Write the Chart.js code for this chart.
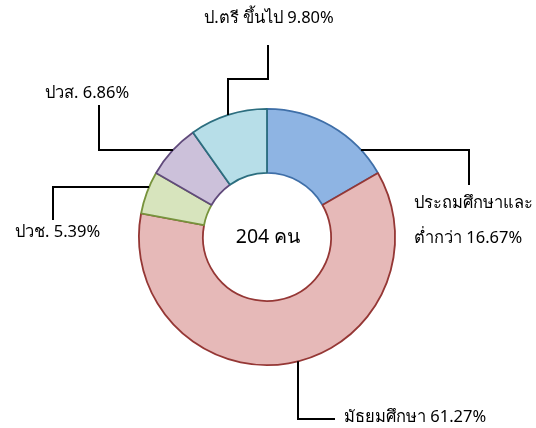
<!DOCTYPE html>
<html>
<head>
<meta charset="utf-8">
<script src="https://cdn.jsdelivr.net/npm/chart.js@4"></script>
<style>
  html, body { margin: 0; padding: 0; background: #fff; }
  #wrap { width: 536px; height: 428px; }
</style>
</head>
<body>
<div id="wrap"><canvas id="myChart" width="536" height="428"></canvas></div>
<script>
// data
const categories = ['ประถมศึกษาและต่ำกว่า', 'มัธยมศึกษา', 'ปวช.', 'ปวส.', 'ป.ตรี ขึ้นไป']
const counts = [34, 125, 11, 14, 20]
const percents = ['16.67%', '61.27%', '5.39%', '6.86%', '9.80%']
const totalText = '204 คน'

const fills = ['#8eb4e3', '#e6b9b8', '#d7e4bd', '#ccc1da', '#b7dee8']
const borders = ['#3f6fa8', '#953735', '#77933c', '#604a7b', '#2c6e7f']

const FONT = "Tahoma, 'Noto Sans', sans-serif"

// label text lines and leader layout (page pixels)
// leader: list of points starting at the label side, last segment runs into the ring
// dir says if the last segment is horizontal ('h') or vertical ('v')
const labelLayout = [
  { lines: ['ประถมศึกษาและ', 'ต่ำกว่า ' + percents[0]], x: 414, y: [203, 238], align: 'left',
    path: [[469, 185], [469, 150]], dir: 'h', side: 1 },
  { lines: [categories[1] + ' ' + percents[1]], x: 344, y: [417], align: 'left',
    path: [[335, 419], [298, 419]], dir: 'v', side: 1 },
  { lines: [categories[2] + ' ' + percents[2]], x: 15, y: [232], align: 'left',
    path: [[53, 220], [53, 187]], dir: 'h', side: -1 },
  { lines: [categories[3] + ' ' + percents[3]], x: 45, y: [93], align: 'left',
    path: [[99, 105], [99, 150]], dir: 'h', side: -1 },
  { lines: [categories[4] + ' ' + percents[4]], x: 269, y: [18], align: 'center',
    path: [[268, 45], [268, 79], [228, 79]], dir: 'v', side: -1 }
]

const labelPlugin = {
  id: 'labels',
  afterDraw(chart) {
    const ctx = chart.ctx
    const arc = chart.getDatasetMeta(0).data[0]
    const cx = arc.x, cy = arc.y, r = arc.outerRadius

    ctx.save()
    // center text
    ctx.fillStyle = '#000'
    ctx.font = '19.5px ' + FONT
    ctx.textAlign = 'center'
    ctx.textBaseline = 'middle'
    ctx.fillText(totalText, cx + 1, cy)

    labelLayout.forEach(function (lab) {
      ctx.font = '16.5px ' + FONT
      ctx.textAlign = lab.align
      ctx.textBaseline = 'middle'
      ctx.fillStyle = '#000'
      lab.lines.forEach(function (t, i) { ctx.fillText(t, lab.x, lab.y[i]) })

      // leader line
      const pts = lab.path.slice()
      const last = pts[pts.length - 1]
      let end
      if (lab.dir === 'h') {
        const dy = last[1] - cy
        const dx = Math.sqrt(Math.max(r * r - dy * dy, 0))
        end = [cx + (lab.side > 0 ? dx : -dx), last[1]]
      } else {
        const dx = last[0] - cx
        const dy = Math.sqrt(Math.max(r * r - dx * dx, 0))
        end = [last[0], cy + (lab.side > 0 ? dy : -dy)]
      }
      pts.push(end)
      ctx.strokeStyle = '#000'
      ctx.lineWidth = 2
      ctx.beginPath()
      ctx.moveTo(pts[0][0], pts[0][1])
      for (let i = 1; i < pts.length; i++) ctx.lineTo(pts[i][0], pts[i][1])
      ctx.stroke()
    })
    ctx.restore()
  }
}

function drawChart() {
  var ctx = document.getElementById('myChart').getContext('2d')
  new Chart(ctx, {
    type: 'doughnut',
    data: {
      labels: categories,
      datasets: [{
        data: counts,
        backgroundColor: fills,
        borderColor: borders,
        borderWidth: 1.8
      }]
    },
    options: {
      responsive: false,
      animation: false,
      cutout: '50%',
      layout: { padding: { left: 138, right: 140, top: 108, bottom: 62 } },
      plugins: {
        legend: { display: false },
        tooltip: { enabled: false }
      }
    },
    plugins: [labelPlugin]
  })
}
drawChart()
</script>
</body>
</html>
